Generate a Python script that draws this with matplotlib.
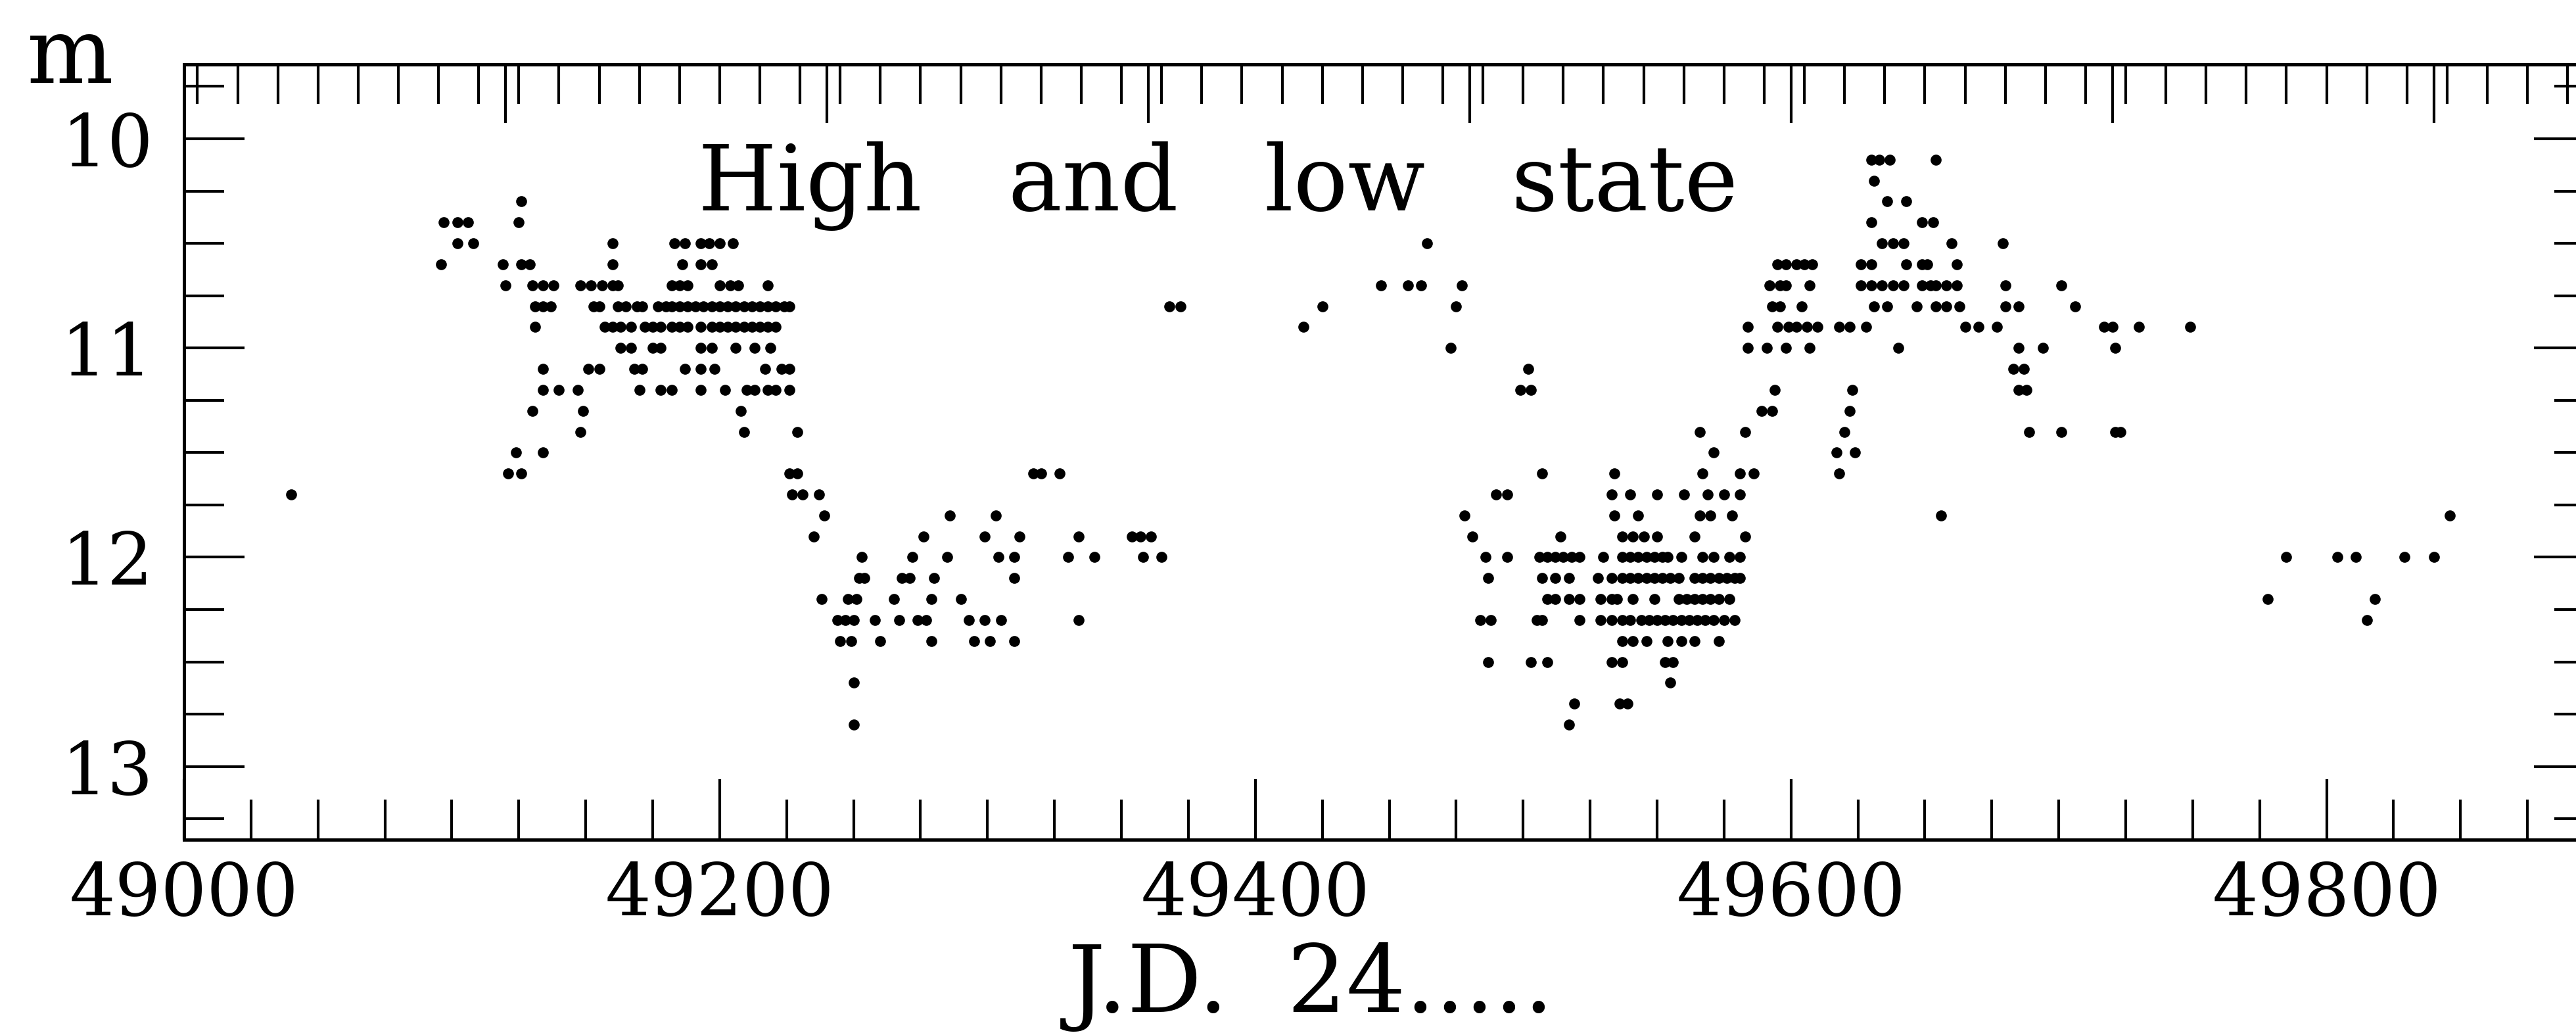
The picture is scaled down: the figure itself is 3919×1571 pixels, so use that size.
import matplotlib
matplotlib.use("Agg")
import matplotlib.pyplot as plt
from matplotlib.ticker import MultipleLocator, FixedLocator, NullFormatter

plt.rcParams['font.family'] = ['DejaVu Serif']

# J.D. - 2400000 of each observation, grouped by estimated magnitude
m101 = [49630, 49633, 49637, 49654]
m102 = [49631]
m103 = [49126, 49636, 49643]
m104 = [49097, 49102, 49106, 49125, 49630, 49649, 49653]
m105 = [49102, 49108, 49160, 49183, 49187, 49193, 49196, 49200, 49205, 49464,
        49634, 49638, 49642, 49660, 49679]
m106 = [49096, 49119, 49126, 49129, 49160, 49186, 49193, 49197, 49595, 49598,
        49602, 49605, 49608, 49626, 49630, 49643, 49649, 49651, 49662]
m107 = [49120, 49130, 49134, 49138, 49148, 49152, 49156, 49160, 49162, 49182,
        49185, 49188, 49200, 49204, 49207, 49218, 49447, 49457, 49462, 49477,
        49592, 49596, 49598, 49607, 49626, 49630, 49634, 49638, 49642, 49649,
        49652, 49654, 49658, 49662, 49680, 49701]
m108 = [49131, 49134, 49137, 49153, 49155, 49162, 49165, 49169, 49171, 49177,
        49180, 49182, 49185, 49188, 49191, 49194, 49197, 49200, 49203, 49206,
        49209, 49212, 49215, 49218, 49221, 49224, 49226, 49368, 49372, 49425,
        49475, 49593, 49596, 49604, 49631, 49636, 49647, 49654, 49658, 49663,
        49680, 49685, 49706]
m109 = [49131, 49157, 49160, 49163, 49167, 49172, 49175, 49178, 49182, 49185,
        49188, 49193, 49197, 49200, 49203, 49206, 49209, 49212, 49215, 49218,
        49221, 49418, 49584, 49595, 49599, 49602, 49606, 49610, 49618, 49622,
        49628, 49665, 49670, 49677, 49717, 49720, 49730, 49749]
m110 = [49163, 49167, 49175, 49178, 49193, 49197, 49206, 49213, 49219, 49473,
        49584, 49591, 49598, 49607, 49640, 49685, 49694, 49721]
m111 = [49134, 49151, 49155, 49168, 49171, 49187, 49193, 49198, 49217, 49223,
        49226, 49502, 49683, 49687]
m112 = [49134, 49140, 49147, 49170, 49178, 49182, 49193, 49202, 49210, 49213,
        49218, 49221, 49226, 49499, 49503, 49594, 49623, 49685, 49688]
m113 = [49130, 49149, 49208, 49589, 49593, 49622]
m114 = [49148, 49209, 49229, 49566, 49583, 49620, 49689, 49701, 49721, 49723]
m115 = [49124, 49134, 49571, 49617, 49624]
m116 = [49121, 49126, 49226, 49229, 49317, 49320, 49327, 49507, 49534, 49567,
        49581, 49586, 49618]
m117 = [49040, 49227, 49231, 49237, 49490, 49494, 49533, 49540, 49550, 49560,
        49569, 49575, 49581]
m118 = [49239, 49286, 49303, 49478, 49534, 49543, 49566, 49570, 49578, 49656,
        49846]
m119 = [49235, 49276, 49299, 49312, 49334, 49354, 49357, 49361, 49481, 49514,
        49537, 49541, 49545, 49550, 49564, 49583]
m120 = [49253, 49272, 49285, 49304, 49310, 49330, 49340, 49358, 49365, 49486,
        49494, 49506, 49509, 49512, 49515, 49518, 49521, 49530, 49537, 49540,
        49543, 49546, 49549, 49552, 49554, 49559, 49567, 49571, 49577, 49581,
        49785, 49804, 49811, 49829, 49840]
m121 = [49252, 49254, 49268, 49271, 49280, 49310, 49487, 49507, 49512, 49517,
        49528, 49533, 49537, 49540, 49543, 49546, 49549, 49552, 49555, 49558,
        49564, 49567, 49570, 49573, 49576, 49579, 49581]
m122 = [49238, 49248, 49251, 49265, 49279, 49290, 49509, 49512, 49517, 49521,
        49529, 49533, 49535, 49541, 49549, 49558, 49561, 49564, 49567, 49570,
        49573, 49577, 49778, 49818]
m123 = [49244, 49247, 49250, 49258, 49267, 49274, 49277, 49293, 49299, 49305,
        49334, 49484, 49488, 49505, 49507, 49521, 49529, 49533, 49537, 49540,
        49544, 49547, 49550, 49553, 49556, 49559, 49562, 49565, 49568, 49571,
        49575, 49579, 49815]
m124 = [49245, 49249, 49260, 49279, 49295, 49301, 49310, 49537, 49541, 49546,
        49554, 49559, 49564, 49573]
m125 = [49487, 49503, 49509, 49533, 49537, 49553, 49556]
m126 = [49250, 49555]
m127 = [49519, 49536, 49539]
m128 = [49250, 49517]

rows = [(10.1, m101), (10.2, m102), (10.3, m103), (10.4, m104), (10.5, m105),
        (10.6, m106), (10.7, m107), (10.8, m108), (10.9, m109), (11.0, m110),
        (11.1, m111), (11.2, m112), (11.3, m113), (11.4, m114), (11.5, m115),
        (11.6, m116), (11.7, m117), (11.8, m118), (11.9, m119), (12.0, m120),
        (12.1, m121), (12.2, m122), (12.3, m123), (12.4, m124), (12.5, m125),
        (12.6, m126), (12.7, m127), (12.8, m128)]

jd = []
mag = []
for m, days in rows:
    jd += days
    mag += [m] * len(days)

fig = plt.figure(figsize=(39.19, 15.71), dpi=100)
ax = fig.add_axes([0.07145, 0.1871, 0.9357, 0.7505])
ax.plot(jd, mag, 'o', color='black', ms=12, mec='none')

ax.set_xlim(49000, 49900)
ax.set_ylim(13.35, 9.645)

ax.xaxis.set_major_locator(MultipleLocator(200))
ax.xaxis.set_minor_locator(MultipleLocator(25))
ax.yaxis.set_major_locator(MultipleLocator(1))
ax.yaxis.set_minor_locator(MultipleLocator(0.25))

for s in ax.spines.values():
    s.set_linewidth(3.6)

ax.tick_params(which='both', direction='in', right=True, top=False, width=3)
ax.tick_params(which='major', length=66, labelsize=79)
ax.tick_params(which='minor', length=44)
ax.tick_params(axis='y', which='major', pad=34)
ax.tick_params(axis='x', which='major', pad=22)

# top axis carries its own tick spacing, no labels
ax2 = ax.twiny()
ax2.set_xlim(ax.get_xlim())
ax2.xaxis.set_major_locator(FixedLocator([49120 + 120 * k for k in range(7)]))
ax2.xaxis.set_minor_locator(MultipleLocator(15))
ax2.xaxis.set_major_formatter(NullFormatter())
ax2.tick_params(which='both', direction='in', width=3)
ax2.tick_params(which='major', length=64)
ax2.tick_params(which='minor', length=43)
for s in ax2.spines.values():
    s.set_linewidth(3.6)

fig.text(1062 / 3919, 1 - 320 / 1571, 'High   and   low   state', fontsize=99,
         ha='left', va='baseline')
fig.text(1625 / 3919, 32 / 1571, 'J.D.  24.....', fontsize=102,
         ha='left', va='baseline')
fig.text(41 / 3919, 1 - 126 / 1571, 'm', fontsize=100, ha='left', va='baseline')

fig.savefig('out.png', dpi=100)
